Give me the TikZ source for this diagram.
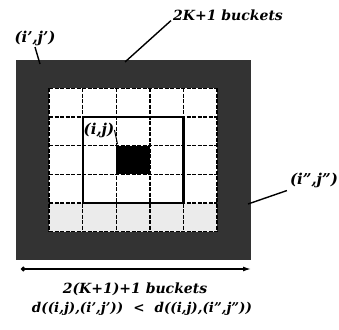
\documentclass[tikz,border=0pt]{standalone}
\usepackage{fontspec}
\setmainfont{DejaVu Serif}
\usetikzlibrary{positioning, arrows.meta, calc}

\begin{document}
\begin{tikzpicture}[
    x=1pt, y=-1pt,
    lbl/.style={font=\bfseries\itshape\fontsize{14}{16}\selectfont, inner sep=0pt},
    pair/.style={lbl, font=\bfseries\itshape\fontsize{15}{17}\selectfont},
    ptr/.style={line width=1.4pt},
    cellline/.style={line width=1.4pt, dash pattern=on 4pt off 1.5pt},
    ring/.style={fill=black!80},
    hood/.style={line width=2.2pt}
]
    \useasboundingbox (0,0) rectangle (339,329);

    % Buckets
    \fill[ring] (15.5,59.5) rectangle (250.7,260.4);
    \fill[white] (49.1,88.2) rectangle (217.1,231.7);
    \fill[black!8] (49.1,203.0) rectangle (217.1,231.7);
    \foreach \x in {49.1, 82.7, 116.3, 149.9, 183.5, 217.1}
        \draw[cellline] (\x,88.2) -- (\x,231.7);
    \foreach \y in {88.2, 116.9, 145.6, 174.3, 203.0, 231.7}
        \draw[cellline] (49.1,\y) -- (217.1,\y);
    \fill[black] (116.3,145.6) rectangle (149.9,174.3);
    \draw[hood] (82.7,116.9) rectangle (183.5,203.0);

    % Anchors for the pointers
    \coordinate (corner) at (40,64);
    \coordinate (topband) at (125,62);
    \coordinate (center) at (117.5,144);
    \coordinate (rightband) at (248,204);
    \coordinate (wl) at (21,269);
    \coordinate (wr) at (251,269);

    % Labels
    \node[pair] (ipjp) at (35,38) {(i',j')};
    \node[lbl] (kb) at (228,15) {2K+1 buckets};
    \node[pair] (ij) at (99,130) {(i,j)};
    \node[pair] (ippjpp) at (314,180) {(i'',j'')};
    \node[lbl] (wb) at (135,289) {2(K+1)+1 buckets};
    \node[lbl, font=\bfseries\itshape\fontsize{13.5}{16}\selectfont] (dist) at (142,309)
        {d((i,j),(i',j'))\hspace{10pt}<\hspace{10pt}d((i,j),(i'',j''))};

    % Pointers
    \draw[ptr] (ipjp.south) ++(0,1.5) -- (corner);
    \draw[ptr] ([xshift=-2pt]kb.south west) -- (topband);
    \draw[ptr, line width=1pt] (ij.east) -- (center);
    \draw[ptr] ([xshift=-3pt, yshift=-3pt]ippjpp.south west) -- (rightband);
    \draw[line width=1.4pt, {Circle[length=4.5pt]}-{Latex[length=8pt, width=5pt]}] (wl) -- (wr);
\end{tikzpicture}
\end{document}
